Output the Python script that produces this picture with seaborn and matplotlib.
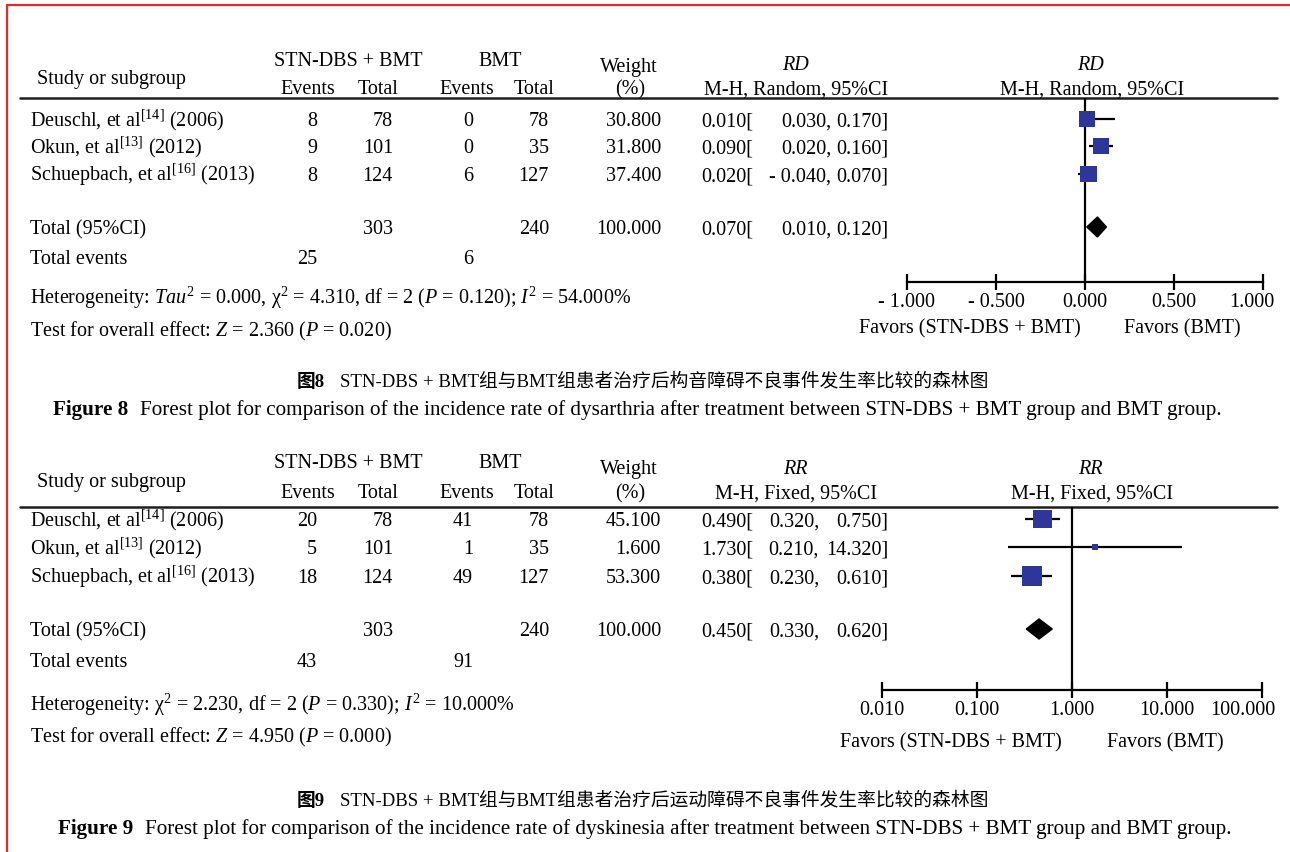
import numpy as np
import pandas as pd
import matplotlib
matplotlib.use("Agg")
import matplotlib.pyplot as plt
import matplotlib.transforms as mtransforms
import seaborn as sns
from matplotlib.patches import Polygon

sns.set_theme(style="white")
plt.rcParams["font.family"] = ["Liberation Serif", "Noto Sans CJK SC", "DejaVu Sans"]
plt.rcParams["mathtext.fontset"] = "custom"
plt.rcParams["mathtext.rm"] = "Liberation Serif"
plt.rcParams["mathtext.it"] = "Liberation Serif:italic"
plt.rcParams["mathtext.bf"] = "Liberation Serif:bold"
plt.rcParams["text.color"] = "black"

# ---------------- data ----------------
studies = ["Deuschl, et al", "Okun, et al", "Schuepbach, et al"]
refs = ["14", "13", "16"]
years = ["2006", "2012", "2013"]

# Figure 8: dysarthria, risk difference (M-H, random)
f8_dbs_events = [8, 9, 8]
f8_dbs_total = [78, 101, 124]
f8_bmt_events = [0, 0, 6]
f8_bmt_total = [78, 35, 127]
f8_weight = [30.8, 31.8, 37.4]
f8_est = [0.010, 0.090, 0.020]
f8_lo = [0.030, 0.020, -0.040]
f8_hi = [0.170, 0.160, 0.070]
f8_pooled = [0.070, 0.010, 0.120]          # estimate, lower, upper
f8_sum_total = [303, 240]
f8_sum_events = [25, 6]
f8_het = dict(tau2=0.000, chi2=4.310, df=2, p=0.120, i2=54.000)
f8_overall = dict(z=2.360, p=0.020)
f8_ticks = [-1.0, -0.5, 0.0, 0.5, 1.0]

# Figure 9: dyskinesia, risk ratio (M-H, fixed)
f9_dbs_events = [20, 5, 18]
f9_dbs_total = [78, 101, 124]
f9_bmt_events = [41, 1, 49]
f9_bmt_total = [78, 35, 127]
f9_weight = [45.1, 1.6, 53.3]
f9_est = [0.490, 1.730, 0.380]
f9_lo = [0.320, 0.210, 0.230]
f9_hi = [0.750, 14.320, 0.610]
f9_pooled = [0.450, 0.330, 0.620]
f9_sum_total = [303, 240]
f9_sum_events = [43, 91]
f9_het = dict(chi2=2.230, df=2, p=0.330, i2=10.000)
f9_overall = dict(z=4.950, p=0.000)
f9_ticks = [0.01, 0.1, 1.0, 10.0, 100.0]

# ---------------- layout ----------------
W, H = 1290, 853
FS = 14.5
BLUE = "#2f3699"
RULE = "#1e1e1e"

fig = plt.figure(figsize=(W / 100, H / 100), dpi=100)
canvas = fig.add_axes([0, 0, 1, 1])
canvas.set_xlim(0, W)
canvas.set_ylim(H, 0)
canvas.axis("off")

# page frame
canvas.plot([6, W], [6, 6], color="#e8262b", lw=1.6, solid_capstyle="butt")
canvas.plot([6.5, 6.5], [6, H], color="#e8262b", lw=1.6, solid_capstyle="butt")


def txt(x, y, s, ha="left", size=FS, **kw):
    # y is the visual centre of the capitals; place via baseline
    canvas.text(x, y + 0.31 * size / 0.72, s, ha=ha, va="baseline",
                fontsize=size, color="black", **kw)


def fmt_num(v):
    return f"- {abs(v):.3f}" if v < 0 else f"{v:.3f}"


def panel(name, method, dbs_e, dbs_t, bmt_e, bmt_t, wt, est, lo, hi,
          pooled, sum_total, sum_events, het_text, overall_text,
          hdr, rule_y, rows, lo_right, axis_y, ax_x0, ax_x1, log, ticks,
          end_shift, fav_left, fav_right, fav_y):
    y_grp, y_study, y_sub, y_wt, y_name = hdr
    txt(348, y_grp, "STN-DBS + BMT", ha="center")
    txt(500, y_grp, "BMT", ha="center")
    txt(37, y_study, "Study or subgroup")
    txt(308, y_sub, "Events", ha="center")
    txt(378, y_sub, "Total", ha="center")
    txt(467, y_sub, "Events", ha="center")
    txt(534, y_sub, "Total", ha="center")
    txt(629, y_wt, "Weight", ha="center")
    txt(630, y_sub, "(%)", ha="center")
    txt(795, y_name, name, ha="center", style="italic")
    txt(796, y_sub, method, ha="center")
    txt(1090, y_name, name, ha="center", style="italic")
    txt(1092, y_sub, method, ha="center")
    canvas.plot([20, 1277], [rule_y, rule_y], color=RULE, lw=1.8)

    y_rows, y_tot, y_ev, y_het, y_test = rows
    for i in range(3):
        y = y_rows[i]
        txt(30, y, f"{studies[i]}$^{{[{refs[i]}]}}$ ({years[i]})")
        txt(317, y, f"{dbs_e[i]}", ha="right")
        txt(393, y, f"{dbs_t[i]}", ha="right")
        txt(473, y, f"{bmt_e[i]}", ha="right")
        txt(549, y, f"{bmt_t[i]}", ha="right")
        txt(661, y, f"{wt[i]:.3f}", ha="right")
        txt(701, y, f"{fmt_num(est[i])}[")
        txt(lo_right, y, f"{fmt_num(lo[i])},", ha="right")
        txt(888, y, f"{fmt_num(hi[i])}]", ha="right")

    txt(30, y_tot, "Total (95%CI)")
    txt(393, y_tot, f"{sum_total[0]}", ha="right")
    txt(549, y_tot, f"{sum_total[1]}", ha="right")
    txt(661, y_tot, f"{sum(wt):.3f}", ha="right")
    txt(701, y_tot, f"{fmt_num(pooled[0])}[")
    txt(lo_right, y_tot, f"{fmt_num(pooled[1])},", ha="right")
    txt(888, y_tot, f"{fmt_num(pooled[2])}]", ha="right")

    txt(30, y_ev, "Total events")
    txt(317, y_ev, f"{sum_events[0]}", ha="right")
    txt(473, y_ev, f"{sum_events[1]}", ha="right")

    txt(30, y_het, het_text)
    txt(30, y_test, overall_text)

    # forest panel: y runs in pixel rows between the rule and the scale line
    rect = [ax_x0 / W, 1 - axis_y / H, (ax_x1 - ax_x0) / W, (axis_y - rule_y) / H]
    ax = fig.add_axes(rect)
    ax.set_facecolor("none")
    if log:
        ax.set_xscale("log")
    ax.set_xlim(ticks[0], ticks[-1])
    ax.set_ylim(axis_y, rule_y)

    df = pd.DataFrame({"est": est, "lo": lo, "hi": hi, "weight": wt,
                       "row": y_rows})
    ax.hlines(df["row"], df["lo"], df["hi"], color="black", lw=1.6, zorder=2)
    sns.scatterplot(data=df, x="est", y="row", size="weight",
                    sizes=(12, 380), size_norm=(0, 100), marker="s",
                    color=BLUE, linewidth=0, legend=False, ax=ax, zorder=3)
    h = 10
    diamond = Polygon([(pooled[1], y_tot), (pooled[0], y_tot - h),
                       (pooled[2], y_tot), (pooled[0], y_tot + h)],
                      closed=True, color="black", zorder=3)
    ax.add_patch(diamond)
    ax.axvline(1.0 if log else 0.0, color="black", lw=1.6, zorder=1)

    for s in ["top", "left", "right"]:
        ax.spines[s].set_visible(False)
    ax.spines["bottom"].set_linewidth(1.6)
    ax.spines["bottom"].set_color("black")
    ax.set_xticks(ticks, [fmt_num(t) for t in ticks])
    ax.minorticks_off()
    ax.set_yticks([])
    ax.set_xlabel("")
    ax.set_ylabel("")
    ax.tick_params(axis="x", direction="inout", length=11, width=1.6,
                   pad=2.0, labelsize=FS, colors="black", bottom=True)
    # pull the outermost right label inward so it stays on the page
    last = ax.get_xticklabels()[-1]
    last.set_transform(last.get_transform() + mtransforms.ScaledTranslation(
        end_shift / 100, 0, fig.dpi_scale_trans))

    txt(fav_left, fav_y, "Favors (STN-DBS + BMT)", ha="center")
    txt(fav_right, fav_y, "Favors (BMT)", ha="center")


h8 = (rf"Heterogeneity: $\mathit{{Tau}}^{{2}}$ = {f8_het['tau2']:.3f}, χ$^{{2}}$ = "
      rf"{f8_het['chi2']:.3f}, df = {f8_het['df']} ($\mathit{{P}}$ = {f8_het['p']:.3f}); "
      rf"$\mathit{{I}}^{{2}}$ = {f8_het['i2']:.3f}%")
o8 = (rf"Test for overall effect: $\mathit{{Z}}$ = {f8_overall['z']:.3f} "
      rf"($\mathit{{P}}$ = {f8_overall['p']:.3f})")
h9 = (rf"Heterogeneity: χ$^{{2}}$ = {f9_het['chi2']:.3f}, df = {f9_het['df']} "
      rf"($\mathit{{P}}$ = {f9_het['p']:.3f}); $\mathit{{I}}^{{2}}$ = {f9_het['i2']:.3f}%")
o9 = (rf"Test for overall effect: $\mathit{{Z}}$ = {f9_overall['z']:.3f} "
      rf"($\mathit{{P}}$ = {f9_overall['p']:.3f})")

panel("RD", "M-H, Random, 95%CI", f8_dbs_events, f8_dbs_total, f8_bmt_events,
      f8_bmt_total, f8_weight, f8_est, f8_lo, f8_hi, f8_pooled, f8_sum_total,
      f8_sum_events, h8, o8,
      hdr=(60, 78, 88, 66, 64), rule_y=99,
      rows=([120, 147, 175], 228, 258, 298, 330), lo_right=831,
      axis_y=283, ax_x0=907, ax_x1=1263, log=False, ticks=f8_ticks,
      end_shift=-11, fav_left=970, fav_right=1182, fav_y=327)
panel("RR", "M-H, Fixed, 95%CI", f9_dbs_events, f9_dbs_total, f9_bmt_events,
      f9_bmt_total, f9_weight, f9_est, f9_lo, f9_hi, f9_pooled, f9_sum_total,
      f9_sum_events, h9, o9,
      hdr=(462, 481, 492, 468, 468), rule_y=508,
      rows=([520, 548, 577], 630, 661, 705, 736), lo_right=819,
      axis_y=691, ax_x0=882, ax_x1=1262, log=True, ticks=f9_ticks,
      end_shift=-19, fav_left=951, fav_right=1165, fav_y=741)

# captions
CAP_CN = 13.5
CAP_EN = 15.2
txt(297, 381, "图8", size=CAP_CN, weight="bold")
txt(340, 381, "STN-DBS + BMT组与BMT组患者治疗后构音障碍不良事件发生率比较的森林图",
    size=CAP_CN)
txt(53, 408, "Figure 8", size=CAP_EN, weight="bold")
txt(140, 408, "Forest plot for comparison of the incidence rate of dysarthria after "
              "treatment between STN-DBS + BMT group and BMT group.", size=CAP_EN)
txt(297, 800, "图9", size=CAP_CN, weight="bold")
txt(340, 800, "STN-DBS + BMT组与BMT组患者治疗后运动障碍不良事件发生率比较的森林图",
    size=CAP_CN)
txt(58, 827, "Figure 9", size=CAP_EN, weight="bold")
txt(145, 827, "Forest plot for comparison of the incidence rate of dyskinesia after "
              "treatment between STN-DBS + BMT group and BMT group.", size=CAP_EN)

fig.savefig("out.png", dpi=100)
